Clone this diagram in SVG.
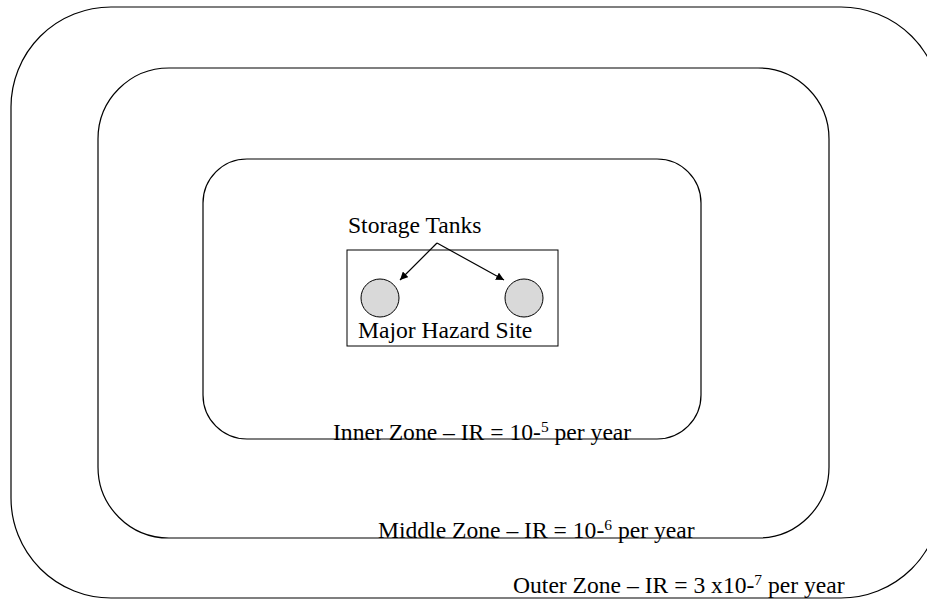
<svg xmlns="http://www.w3.org/2000/svg" width="927" height="599" viewBox="0 0 927 599">
<style>
.zone{fill:none;stroke:#000;stroke-width:1.2}
.t{font-family:"Liberation Serif","Times New Roman",serif;font-size:23.6px;fill:#000}
.sup{font-size:15.5px}
.tank{fill:#d9d9d9;stroke:#000;stroke-width:1}
.conn{stroke:#000;stroke-width:1.2;fill:none}
</style>
<defs>
<marker id="ah" viewBox="0 0 10 10" refX="10" refY="5" markerWidth="8" markerHeight="8" markerUnits="userSpaceOnUse" orient="auto">
<path d="M0,0 L10,5 L0,10 z" fill="#000"/>
</marker>
</defs>
<rect width="927" height="599" fill="#fff"/>
<g id="outer-zone">
<rect class="zone" x="11" y="7" width="930" height="591" rx="100" ry="100"/>
<text class="t" x="513" y="593">Outer Zone – IR = 3 x10-<tspan class="sup" dy="-8">7</tspan><tspan dy="8"> per year</tspan></text>
</g>
<g id="middle-zone">
<rect class="zone" x="98" y="68" width="731" height="470" rx="71" ry="71"/>
<text class="t" x="378" y="538">Middle Zone – IR = 10-<tspan class="sup" dy="-8">6</tspan><tspan dy="8"> per year</tspan></text>
</g>
<g id="inner-zone">
<rect class="zone" x="203" y="159" width="498" height="280" rx="44" ry="44"/>
<text class="t" x="333" y="440">Inner Zone – IR = 10-<tspan class="sup" dy="-8">5</tspan><tspan dy="8"> per year</tspan></text>
</g>
<g id="major-hazard-site">
<rect x="347" y="250" width="211" height="96" fill="none" stroke="#000" stroke-width="1"/>
<text class="t" x="358" y="338">Major Hazard Site</text>
</g>
<g id="tank-left"><circle class="tank" cx="380" cy="298" r="19"/></g>
<g id="tank-right"><circle class="tank" cx="524" cy="298" r="19"/></g>
<g id="storage-tanks-label"><text class="t" x="348" y="233">Storage Tanks</text></g>
<g id="connectors">
<line class="conn" x1="437" y1="243" x2="400" y2="280" marker-end="url(#ah)"/>
<line class="conn" x1="437" y1="243" x2="504" y2="280" marker-end="url(#ah)"/>
</g>
</svg>
